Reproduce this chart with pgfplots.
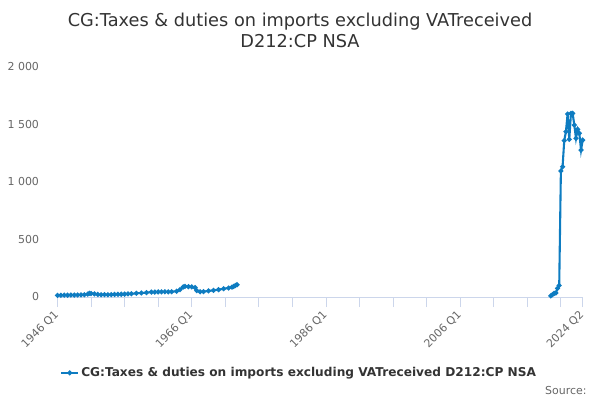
\documentclass[border=0pt]{standalone}
\usepackage{pgfplots}
\pgfplotsset{compat=1.18}
\usepackage{fontspec}
\setmainfont{DejaVu Sans}
\definecolor{series}{HTML}{0E7CC1}
\definecolor{gridc}{HTML}{E6E6E6}
\definecolor{axisc}{HTML}{CCD6EB}
\definecolor{labc}{HTML}{666666}
\definecolor{titlec}{HTML}{333333}
\begin{document}
\begin{tikzpicture}
\path[use as bounding box] (0,0) rectangle (600bp,400bp);
\begin{axis}[
    scale only axis,
    at={(57.5bp,103bp)}, anchor=south west,
    width=525.2bp, height=230bp,
    xmin=1946, xmax=2024.25,
    ymin=0, ymax=2000,
    axis y line=none,
    axis x line*=bottom,
    axis line style={axisc, line width=0.8pt},
    x axis line style={-},
    xtick={1946,1966,1986,2006,2024.25},
    xticklabels={1946 Q1,1966 Q1,1986 Q1,2006 Q1,2024 Q2},
    minor xtick={1951,1956,1961,1971,1976,1981,1991,1996,2001,2011,2016,2021},
    xtick style={draw=axisc, line width=0.8pt},
    xminorgrids=false,
    tick align=outside,
    major tick length=10bp,
    minor tick length=10bp,
    x tick label style={yshift=-5bp, rotate=45, anchor=east, font=\fontsize{11}{13}\selectfont, text=labc, inner sep=1pt},
    ytick={0,500,1000,1500,2000},
    yticklabels={},
    ymajorgrids,
    grid style={gridc, line width=0.8pt},
    clip=false,
    legend style={at={(0.46,-0.330)}, anchor=center, draw=none, fill=none,
        font=\bfseries\fontsize{12.2}{14}\selectfont, text=titlec},
    legend cell align=left,
]
\node[anchor=east, font=\fontsize{11}{13}\selectfont, text=labc] at (axis cs:1946,0) [xshift=-15bp] {0};
\node[anchor=east, font=\fontsize{11}{13}\selectfont, text=labc] at (axis cs:1946,500) [xshift=-15bp] {500};
\node[anchor=east, font=\fontsize{11}{13}\selectfont, text=labc] at (axis cs:1946,1000) [xshift=-15bp] {1 000};
\node[anchor=east, font=\fontsize{11}{13}\selectfont, text=labc] at (axis cs:1946,1500) [xshift=-15bp] {1 500};
\node[anchor=east, font=\fontsize{11}{13}\selectfont, text=labc] at (axis cs:1946,2000) [xshift=-15bp] {2 000};

\addplot[series, line width=2.1pt, mark=*, mark size=1.3pt, forget plot] coordinates {
    (1946.00, 15) (1946.50, 15) (1947.00, 16) (1947.50, 16) (1948.00, 17)
    (1948.50, 17) (1949.00, 18) (1949.50, 19) (1950.00, 20) (1950.50, 25)
    (1950.75, 32) (1951.00, 30) (1951.50, 27) (1952.00, 22) (1952.50, 20)
    (1953.00, 20) (1953.50, 20) (1954.00, 21) (1954.50, 22) (1955.00, 23)
    (1955.50, 24) (1956.00, 25) (1956.50, 27) (1957.00, 28) (1957.75, 32)
    (1958.50, 35) (1959.25, 38) (1960.00, 43) (1960.50, 43) (1961.00, 44)
    (1961.50, 44) (1962.00, 45) (1962.50, 45) (1963.00, 46) (1963.75, 50)
    (1964.25, 64) (1964.75, 88) (1965.00, 93) (1965.50, 90) (1966.00, 88)
    (1966.50, 82) (1966.75, 55) (1967.25, 45) (1967.75, 47) (1968.50, 53)
    (1969.25, 58) (1970.00, 64) (1970.75, 72) (1971.50, 78) (1972.00, 86)
    (1972.25, 92) (1972.50, 100) (1972.75, 107)
};
\addplot[series, line width=2.1pt, mark=*, mark size=1.3pt] coordinates {
    (2019.50, 10) (2019.75, 20) (2020.00, 32) (2020.25, 35) (2020.50, 75)
    (2020.75, 100) (2021.00, 1096) (2021.25, 1133) (2021.50, 1360) (2021.75, 1438)
    (2022.00, 1591) (2022.25, 1371) (2022.50, 1597) (2022.75, 1597) (2023.00, 1495)
    (2023.25, 1380) (2023.50, 1458) (2023.75, 1423) (2024.00, 1278) (2024.25, 1365)
};
\addlegendentry{CG:Taxes \& duties on imports excluding VATreceived D212:CP NSA}
\end{axis}
\node[align=center, text=titlec, font=\fontsize{17.8}{21}\selectfont] at (300bp,370bp)
    {CG:Taxes \& duties on imports excluding VATreceived\\D212:CP NSA};
\node[anchor=east, text=labc, font=\fontsize{11}{13}\selectfont] at (590bp,9bp) {Source:};
\end{tikzpicture}
\end{document}
